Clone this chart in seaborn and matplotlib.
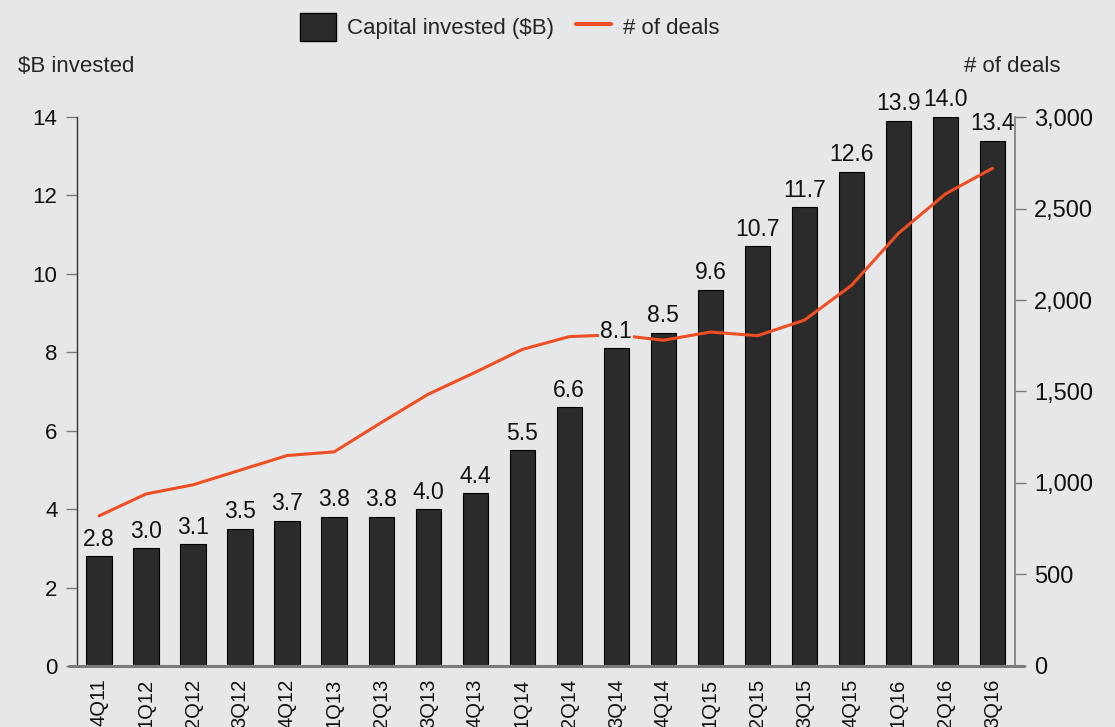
import numpy as np
import pandas as pd
import matplotlib
matplotlib.use("Agg")
import matplotlib.pyplot as plt
from matplotlib.patches import Patch
from matplotlib.lines import Line2D
import seaborn as sns

quarters = ["4Q11", "1Q12", "2Q12", "3Q12", "4Q12", "1Q13", "2Q13", "3Q13", "4Q13",
            "1Q14", "2Q14", "3Q14", "4Q14", "1Q15", "2Q15", "3Q15", "4Q15",
            "1Q16", "2Q16", "3Q16"]
capital = [2.8, 3.0, 3.1, 3.5, 3.7, 3.8, 3.8, 4.0, 4.4, 5.5, 6.6, 8.1, 8.5,
           9.6, 10.7, 11.7, 12.6, 13.9, 14.0, 13.4]
deals = [820, 940, 990, 1070, 1150, 1170, 1330, 1485, 1605, 1730, 1800, 1810,
         1780, 1825, 1805, 1890, 2080, 2365, 2580, 2720]

BG = "#e6e7e8"
BAR = "#2b2b2c"
LINE = "#f04e23"
SPINE = "#7a7a7a"

sns.set_theme(style="white")
plt.rcParams["font.family"] = ["Liberation Sans", "DejaVu Sans"]

df = pd.DataFrame({"quarter": quarters, "capital": capital, "deals": deals})
df["pos"] = np.arange(len(df))

fig = plt.figure(figsize=(11.15, 7.27), dpi=100, facecolor=BG)
ax = fig.add_axes([0.069, 0.084, 0.841, 0.755])
ax.set_facecolor(BG)

sns.barplot(data=df, x="quarter", y="capital", color=BAR, saturation=1,
            edgecolor="black", linewidth=0.8, width=0.54, ax=ax)
n = len(df)
ax.set_xlim(-0.47, n - 1 + 0.47)
ax.set_ylim(0, 14)
ax.set_yticks(range(0, 15, 2))
ax.set_xlabel("")
ax.set_ylabel("")
ax.tick_params(axis="y", direction="out", length=8, width=1, color=SPINE,
               labelsize=16, pad=6, labelcolor="#111111", left=True)
ax.tick_params(axis="x", length=0, labelsize=14.5, pad=9, labelcolor="#111111")
for lbl in ax.get_xticklabels():
    lbl.set_rotation(90)
    lbl.set_va("top")
for s in ["top", "bottom", "right"]:
    ax.spines[s].set_visible(False)
ax.spines["left"].set_color("#333333")
ax.spines["left"].set_linewidth(1)
ax.axhline(0, xmin=-0.008, xmax=1.01, color=SPINE, lw=2.2, clip_on=False, zorder=5)

ax2 = ax.twinx()
sns.lineplot(data=df, x="pos", y="deals", color=LINE, lw=2.2, ax=ax2, zorder=2)
ax2.set_ylim(0, 3000)
ax2.set_yticks(range(0, 3001, 500))
ax2.yaxis.set_major_formatter(matplotlib.ticker.StrMethodFormatter("{x:,.0f}"))
ax2.set_xlabel("")
ax2.set_ylabel("")
ax2.tick_params(axis="y", direction="out", length=8, width=1, color=SPINE,
                labelsize=17, pad=6, labelcolor="#111111", right=True)
for s in ["top", "bottom", "left"]:
    ax2.spines[s].set_visible(False)
ax2.spines["right"].set_color(SPINE)
ax2.spines["right"].set_linewidth(1.2)
ax2.spines["right"].set_zorder(3)

for i, v in enumerate(capital):
    ax2.annotate(f"{v:.1f}", xy=(i, v), xycoords=ax.transData, xytext=(0, 4),
                 textcoords="offset points", ha="center", va="bottom",
                 fontsize=16.5, color="#111111", zorder=2.3,
                 bbox=dict(boxstyle="square,pad=0.05", fc=BG, ec="none"))

fig.text(18 / 1115, 1 - 67 / 727, "$B invested", fontsize=16, va="center", ha="left")
fig.text(1060 / 1115, 1 - 67 / 727, "# of deals", fontsize=16, va="center", ha="right")

handles = [Patch(facecolor=BAR, edgecolor="black", label="Capital invested ($B)"),
           Line2D([0], [0], color=LINE, lw=3, label="# of deals")]
fig.legend(handles=handles, loc="center", bbox_to_anchor=(0.457, 1 - 27 / 727),
           ncol=2, frameon=False, handlelength=1.6, handleheight=1.5,
           columnspacing=1.0, handletextpad=0.5, prop={"size": 16})

fig.savefig("out.png", dpi=100, facecolor=BG)
